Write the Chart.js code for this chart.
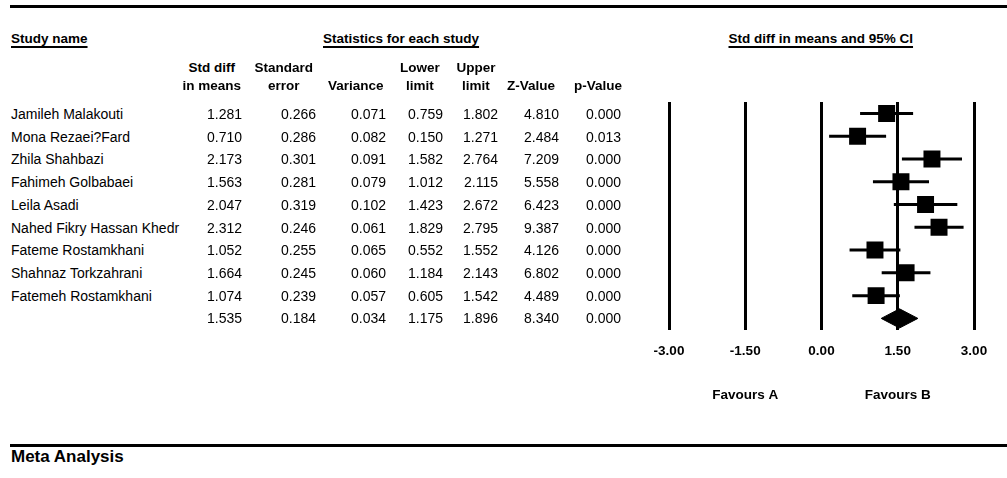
<!DOCTYPE html>
<html>
<head>
<meta charset="utf-8">
<script src="https://cdn.jsdelivr.net/npm/chart.js@4/dist/chart.umd.min.js"></script>
<style>
  body { margin: 0; background: #fff; width: 1007px; height: 478px; overflow: hidden; position: relative;
         font-family: "Liberation Sans", Arial, sans-serif; color: #000; }
  .t { position: absolute; white-space: nowrap; line-height: 20px; font-size: 14px; }
  .b { font-weight: bold; font-size: 13.5px; }
  .u { text-decoration: underline; text-underline-offset: 3px; text-decoration-thickness: 1.5px; }
  .rule { position: absolute; left: 10px; right: 0; height: 3px; background: #000; }
  #plot { position: absolute; left: 600px; top: 90px; }
</style>
</head>
<body>
<div class="rule" style="top:5px"></div>
<div class="rule" style="top:444px"></div>
<canvas id="plot" width="407" height="330"></canvas>
<script>
// forest plot data
var studyNames = ['Jamileh Malakouti', 'Mona Rezaei?Fard', 'Zhila Shahbazi', 'Fahimeh Golbabaei', 'Leila Asadi',
    'Nahed Fikry Hassan Khedr', 'Fateme Rostamkhani', 'Shahnaz Torkzahrani', 'Fatemeh Rostamkhani', ''];
var stdDiff  = [1.281, 0.710, 2.173, 1.563, 2.047, 2.312, 1.052, 1.664, 1.074, 1.535];
var stdErr   = [0.266, 0.286, 0.301, 0.281, 0.319, 0.246, 0.255, 0.245, 0.239, 0.184];
var variance = [0.071, 0.082, 0.091, 0.079, 0.102, 0.061, 0.065, 0.060, 0.057, 0.034];
var lowerLim = [0.759, 0.150, 1.582, 1.012, 1.423, 1.829, 0.552, 1.184, 0.605, 1.175];
var upperLim = [1.802, 1.271, 2.764, 2.115, 2.672, 2.795, 1.552, 2.143, 1.542, 1.896];
var zValue   = [4.810, 2.484, 7.209, 5.558, 6.423, 9.387, 4.126, 6.802, 4.489, 8.340];
var pValue   = [0.000, 0.013, 0.000, 0.000, 0.000, 0.000, 0.000, 0.000, 0.000, 0.000];

var xTicks = [-3, -1.5, 0, 1.5, 3];
var favourLabels = ['Favours A', 'Favours B'];
var favourAt = [-1.5, 1.5];

var summaryRow = 9;

// layout of the table part
var rowTop = 114, rowStep = 22.7;
var colRight = [242, 316, 386, 443, 498, 559, 621];
var colHeadCenter = [212, 284, 356, 420, 476, 531, 598];
var colHead = [['Std diff', 'in means'], ['Standard', 'error'], ['', 'Variance'], ['Lower', 'limit'],
    ['Upper', 'limit'], ['', 'Z-Value'], ['', 'p-Value']];

function addText(txt, x, y, align, cls) {
    var d = document.createElement('div');
    d.className = 't ' + (cls || '');
    d.textContent = txt;
    document.body.appendChild(d);
    var w = d.offsetWidth;
    if (align == 'right') x = x - w;
    else if (align == 'center') x = x - w / 2;
    d.style.left = x + 'px';
    d.style.top = (y - 10) + 'px';
    return d;
}

addText('Study name', 11, 39, 'left', 'b u');
addText('Statistics for each study', 401, 39, 'center', 'b u');
addText('Std diff in means and 95% CI', 821, 39, 'center', 'b u');
addText('Meta Analysis', 11, 457, 'left', 'b').style.fontSize = '17px';

for (let c = 0; c < colHead.length; c++) {
    if (colHead[c][0]) addText(colHead[c][0], colHeadCenter[c], 68, 'center', 'b');
    addText(colHead[c][1], colHeadCenter[c], 86, 'center', 'b');
}

var cols = [stdDiff, stdErr, variance, lowerLim, upperLim, zValue, pValue];
for (let i = 0; i < studyNames.length; i++) {
    let y = rowTop + i * rowStep;
    if (studyNames[i]) addText(studyNames[i], 11, y, 'left');
    for (let c = 0; c < cols.length; c++) {
        addText(cols[c][i].toFixed(3), colRight[c], y, 'right');
    }
}

// datasets for the plot
var datasets = [];

// squares for each study
var squares = [];
for (let i = 0; i < summaryRow; i++) {
    squares.push({ x: stdDiff[i], y: i });
}
datasets.push({
    data: squares,
    pointStyle: 'rect',
    pointRadius: 12,
    pointHoverRadius: 12,
    backgroundColor: '#000',
    borderWidth: 0,
    showLine: false
});

// confidence interval lines
for (let i = 0; i < summaryRow; i++) {
    datasets.push({
        data: [{ x: lowerLim[i], y: i }, { x: upperLim[i], y: i }],
        showLine: true,
        borderColor: '#000',
        borderWidth: 3,
        pointRadius: 0
    });
}

// summary diamond
var dh = 0.42;
var s = summaryRow;
datasets.push({
    data: [{ x: lowerLim[s], y: s }, { x: stdDiff[s], y: s - dh }, { x: upperLim[s], y: s },
           { x: stdDiff[s], y: s + dh }, { x: lowerLim[s], y: s }],
    showLine: true,
    fill: 'shape',
    backgroundColor: '#000',
    borderColor: '#000',
    borderWidth: 1,
    pointRadius: 0
});

var favoursPlugin = {
    id: 'favours',
    afterDraw: function (chart) {
        var ctx = chart.ctx;
        var xs = chart.scales.x;
        ctx.save();
        ctx.fillStyle = '#000';
        ctx.font = 'bold 13.5px "Liberation Sans", Arial, sans-serif';
        ctx.textAlign = 'center';
        ctx.textBaseline = 'middle';
        for (let i = 0; i < favourLabels.length; i++) {
            ctx.fillText(favourLabels[i], xs.getPixelForValue(favourAt[i]), 305);
        }
        ctx.restore();
    }
};

var ctx = document.getElementById('plot').getContext('2d');
var chart = new Chart(ctx, {
    type: 'scatter',
    data: { datasets: datasets },
    options: {
        responsive: false,
        animation: false,
        layout: {
            padding: { left: 69, right: 33, top: 12, bottom: 48 }
        },
        scales: {
            x: {
                type: 'linear',
                min: -3,
                max: 3,
                afterBuildTicks: function (scale) {
                    scale.ticks = xTicks.map(function (v) { return { value: v }; });
                },
                grid: { color: '#000', lineWidth: 3, drawTicks: false },
                border: { display: false },
                ticks: {
                    padding: 13,
                    color: '#000',
                    font: { family: '"Liberation Sans", Arial, sans-serif', size: 13.5, weight: 'bold' },
                    callback: function (v) { return v.toFixed(2); }
                }
            },
            y: {
                type: 'linear',
                display: false,
                reverse: true,
                min: -0.5,
                max: 9.5
            }
        },
        plugins: {
            legend: { display: false },
            tooltip: { enabled: false }
        }
    },
    plugins: [favoursPlugin]
});
</script>
</body>
</html>
